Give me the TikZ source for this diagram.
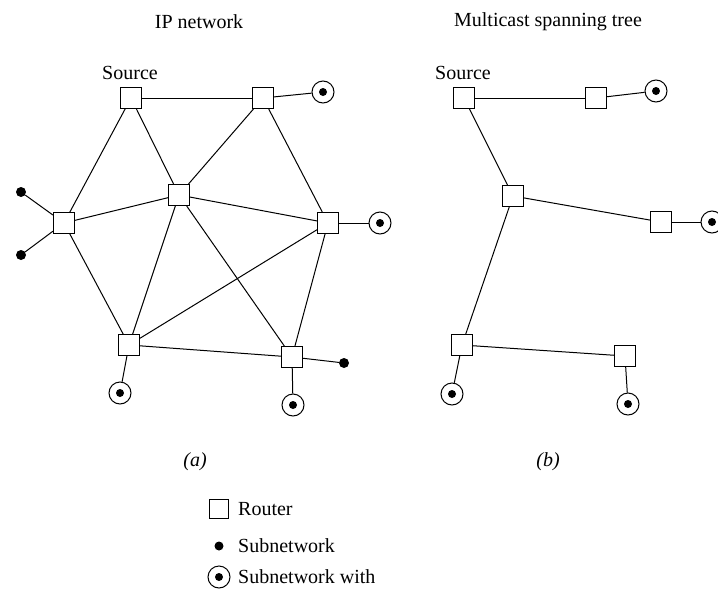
\documentclass[tikz,border=0pt]{standalone}
\usepackage{fontspec}
\setmainfont{Liberation Serif}
\begin{document}
\begin{tikzpicture}[x=1pt,y=-1pt,
  router/.style={draw,line width=1pt,minimum size=21pt,inner sep=0pt},
  subnet/.style={circle,fill,minimum size=10pt,inner sep=0pt},
  member/.style={circle,draw,line width=1pt,minimum size=22pt,inner sep=0pt,
    path picture={\fill (path picture bounding box.center) circle (4pt);}},
  link/.style={line width=1pt},
  txt/.style={font=\fontsize{20}{22}\selectfont,inner sep=0pt}]
\useasboundingbox (0,0) rectangle (718,592);
% titles
\node[txt] (t1) at (199,22) {IP network};
\node[txt] (t2) at (548,22) {Multicast spanning tree};
% left graph
\node[router] (S) at (131,98) {};
\node[txt] (srcA) at (130,73) {Source};
\node[router] (T) at (263,98) {};
\node[member] (Tm) at (323,92) {};
\node[router] (C) at (179,195) {};
\node[router] (L) at (64,223) {};
\node[subnet] (L1) at (21,192) {};
\node[subnet] (L2) at (21,255) {};
\node[router] (R) at (328,223) {};
\node[member] (Rm) at (380,223) {};
\node[router] (BL) at (129,345) {};
\node[member] (BLm) at (120,393) {};
\node[router] (BR) at (292,357) {};
\node[subnet] (BRs) at (344,363) {};
\node[member] (BRm) at (293,405) {};
\foreach \a/\b in {S/T,S/L,S/C,T/C,T/R,T/Tm,C/L,C/R,C/BL,C/BR,L/BL,L/L1,L/L2,R/Rm,R/BL,R/BR,BL/BR,BL/BLm,BR/BRs,BR/BRm}
  \draw[link] (\a) -- (\b);
\node[txt,font=\fontsize{20}{22}\selectfont\itshape] (la) at (195,462) {(a)};
% right graph
\node[router] (S2) at (464,98) {};
\node[txt] (srcB) at (463,73) {Source};
\node[router] (T2) at (596,98) {};
\node[member] (T2m) at (656,91) {};
\node[router] (C2) at (513,196) {};
\node[router] (R2) at (661,222) {};
\node[member] (R2m) at (712,222) {};
\node[router] (BL2) at (462,345) {};
\node[member] (BL2m) at (452,394) {};
\node[router] (BR2) at (625,356) {};
\node[member] (BR2m) at (628,404) {};
\foreach \a/\b in {S2/T2,T2/T2m,S2/C2,C2/R2,R2/R2m,C2/BL2,BL2/BR2,BL2/BL2m,BR2/BR2m}
  \draw[link] (\a) -- (\b);
\node[txt,font=\fontsize{20}{22}\selectfont\itshape] (lb) at (548,462) {(b)};
% legend
\node[router,minimum size=19pt] (kR) at (219,509) {};
\node[txt,anchor=west] (kRt) at (238,509) {Router};
\node[subnet,minimum size=9pt] (kS) at (219,546) {};
\node[txt,anchor=west] (kSt) at (238,546) {Subnetwork};
\node[member] (kM) at (219,577) {};
\node[txt,anchor=west] (kMt) at (238,577) {Subnetwork with};
\end{tikzpicture}
\end{document}
